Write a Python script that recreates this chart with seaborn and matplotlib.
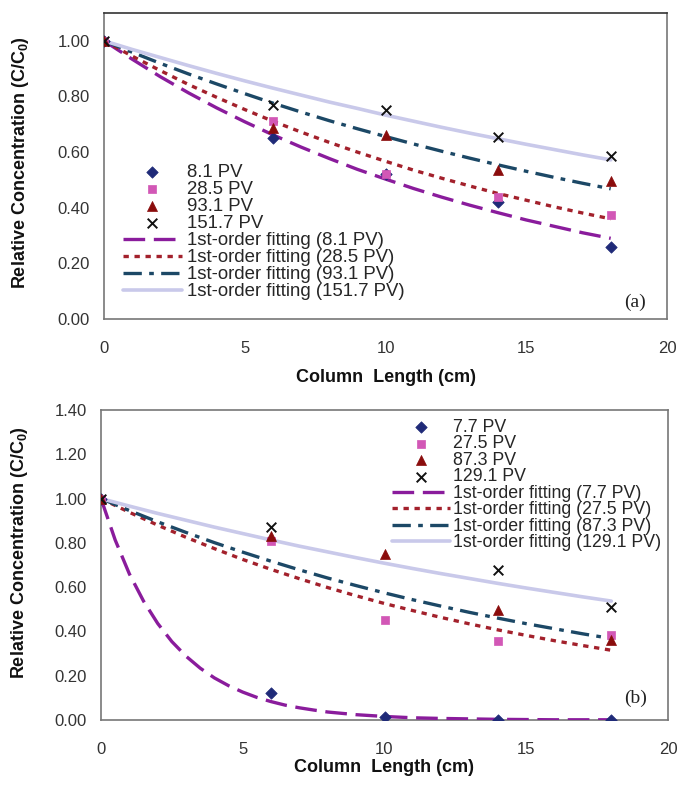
import numpy as np
import pandas as pd
import matplotlib
matplotlib.use("Agg")
import matplotlib.pyplot as plt
import seaborn as sns

# ---------------- data ----------------
col_len = [0, 6, 10, 14, 18]                       # sampling positions (cm)

# panel (a): measured C/C0
a_labels = ["8.1 PV", "28.5 PV", "93.1 PV", "151.7 PV"]
a_8_1 = [1.00, 0.65, 0.52, 0.42, 0.26]
a_28_5 = [1.00, 0.71, 0.52, 0.44, 0.375]
a_93_1 = [1.00, 0.685, 0.66, 0.535, 0.495]
a_151_7 = [1.00, 0.77, 0.75, 0.655, 0.585]

# panel (a): 1st-order fitted curves, read every 1 cm
fit_x = list(range(0, 19))
a_fit_8_1 = [1.000, 0.934, 0.871, 0.813, 0.759, 0.709, 0.662, 0.618, 0.577, 0.538,
             0.503, 0.469, 0.438, 0.409, 0.382, 0.356, 0.333, 0.310, 0.290]
a_fit_28_5 = [1.000, 0.945, 0.893, 0.843, 0.797, 0.753, 0.711, 0.672, 0.635, 0.600,
              0.567, 0.535, 0.506, 0.478, 0.451, 0.427, 0.403, 0.381, 0.360]
a_fit_93_1 = [1.000, 0.959, 0.919, 0.881, 0.845, 0.810, 0.776, 0.744, 0.713, 0.684,
              0.656, 0.629, 0.603, 0.578, 0.554, 0.531, 0.509, 0.488, 0.468]
a_fit_151_7 = [1.000, 0.969, 0.940, 0.911, 0.883, 0.856, 0.830, 0.805, 0.780, 0.757,
               0.733, 0.711, 0.689, 0.668, 0.648, 0.628, 0.609, 0.590, 0.572]

# panel (b): measured C/C0
b_labels = ["7.7 PV", "27.5 PV", "87.3 PV", "129.1 PV"]
b_7_7 = [1.00, 0.123, 0.012, 0.0, 0.0]
b_27_5 = [1.00, 0.807, 0.45, 0.357, 0.383]
b_87_3 = [1.00, 0.83, 0.75, 0.498, 0.363]
b_129_1 = [1.00, 0.87, np.nan, 0.678, 0.51]

# panel (b): 1st-order fitted curves
b_fit_x_7_7 = [0, 0.5, 1, 1.5, 2, 2.5, 3, 3.5, 4, 4.5, 5, 5.5, 6, 6.5, 7, 7.5, 8,
               9, 10, 11, 12, 13, 14, 15, 16, 17, 18]
b_fit_7_7 = [1.000, 0.813, 0.660, 0.537, 0.436, 0.354, 0.288, 0.234, 0.190, 0.155,
             0.126, 0.102, 0.083, 0.067, 0.055, 0.045, 0.036,
             0.024, 0.016, 0.010, 0.007, 0.005, 0.003, 0.002, 0.001, 0.001, 0.001]
b_fit_27_5 = [1.000, 0.938, 0.880, 0.825, 0.774, 0.725, 0.680, 0.638, 0.598, 0.561,
              0.526, 0.494, 0.463, 0.434, 0.407, 0.382, 0.358, 0.336, 0.315]
b_fit_87_3 = [1.000, 0.946, 0.895, 0.847, 0.801, 0.758, 0.717, 0.678, 0.641, 0.607,
              0.574, 0.543, 0.514, 0.486, 0.460, 0.435, 0.412, 0.389, 0.368]
b_fit_129_1 = [1.000, 0.966, 0.933, 0.902, 0.871, 0.842, 0.813, 0.785, 0.759, 0.733,
               0.708, 0.684, 0.661, 0.639, 0.617, 0.596, 0.576, 0.556, 0.537]

# y tick values of each panel
a_yticks = [0.0, 0.2, 0.4, 0.6, 0.8, 1.0]
b_yticks = [0.0, 0.2, 0.4, 0.6, 0.8, 1.0, 1.2, 1.4]

# ---------------- style ----------------
sns.set_style("white")
plt.rcParams["font.family"] = ["Liberation Sans", "DejaVu Sans"]
plt.rcParams["mathtext.fontset"] = "custom"
plt.rcParams["mathtext.rm"] = "Liberation Sans"
plt.rcParams["mathtext.bf"] = "Liberation Sans:bold"

DPI = 100
W, H = 680, 787
fig = plt.figure(figsize=(W / DPI, H / DPI), dpi=DPI)

def px_axes(left, top, right, bottom):
    return fig.add_axes([left / W, 1 - bottom / H, (right - left) / W, (bottom - top) / H])

ax_a = px_axes(104, 13, 667, 319)
ax_b = px_axes(101, 410, 668, 720)

marker_styles = [
    dict(marker="D", color="#1f2a78", s=34),
    dict(marker="s", color="#d257b6", s=36),
    dict(marker="^", color="#8a0c0c", s=52),
    dict(marker="x", color="#111111", s=48),
]
line_styles = [
    dict(color="#8a1c9c", lw=2.4, ls=(0, (6.5, 2.6))),
    dict(color="#a3212c", lw=2.4, ls=(0, (1.6, 1.7))),
    dict(color="#1c4866", lw=2.4, ls=(0, (5.5, 2.2, 1.4, 2.2))),
    dict(color="#c9c9ea", lw=2.6, ls="-"),
]

def draw_panel(ax, labels, points, fits, ymax, yticks, tag, tag_xy, leg_anchor, leg_kw):
    handles = []
    for lab, ys, ms in zip(labels, points, marker_styles):
        df = pd.DataFrame({"x": col_len, "y": ys}).dropna()
        kw = dict(marker=ms["marker"], color=ms["color"], s=ms["s"], zorder=5)
        if ms["marker"] == "x":
            kw.update(linewidth=1.4)
        else:
            kw.update(edgecolor=ms["color"], linewidth=0.5)
        sns.scatterplot(data=df, x="x", y="y", ax=ax, label=lab, legend=False, **kw)
        handles.append(ax.collections[-1])
    for lab, (fx, fy), st in zip(labels, fits, line_styles):
        df = pd.DataFrame({"x": fx, "y": fy})
        sns.lineplot(data=df, x="x", y="y", ax=ax, color=st["color"], linewidth=st["lw"],
                     legend=False, zorder=3)
        line = ax.lines[-1]
        line.set_linestyle(st["ls"])
        line.set_label(f"1st-order fitting ({lab})")
        handles.append(line)

    ax.set_xticks([0, 5, 10, 15, 20])
    ax.set_yticks(yticks)
    ax.set_yticklabels([f"{t:.2f}" for t in yticks])
    ax.set_xlim(0, 20)
    ax.set_ylim(0, ymax)
    ax.tick_params(axis="both", direction="out", length=4, width=1, color="#555555",
                   labelsize=12, labelcolor="#333333")
    ax.tick_params(axis="x", pad=12)
    ax.tick_params(axis="y", pad=6)
    for sp in ax.spines.values():
        sp.set_color("#777777")
        sp.set_linewidth(1.2)
        sp.set_visible(True)

    ax.set_xlabel("Column  Length (cm)", fontsize=13, fontweight="bold", color="#111111")
    ax.set_ylabel(r"Relative Concentration (C/C$_\mathbf{0}$)", fontsize=13,
                  fontweight="bold", color="#111111")
    ax.yaxis.label.set_va("center")
    ax.xaxis.label.set_va("center")

    ax.text(tag_xy[0], tag_xy[1], tag, transform=ax.transAxes,
            ha="center", va="center", fontsize=14, family="Liberation Serif", color="#222222")

    ax.legend(handles=handles, loc="upper left", bbox_to_anchor=leg_anchor,
              bbox_transform=fig.transFigure, frameon=False,
              borderpad=0, borderaxespad=0, scatterpoints=1, **leg_kw)

draw_panel(ax_a, a_labels, [a_8_1, a_28_5, a_93_1, a_151_7],
           [(fit_x, a_fit_8_1), (fit_x, a_fit_28_5), (fit_x, a_fit_93_1), (fit_x, a_fit_151_7)],
           1.1, a_yticks, "(a)", ((635 - 104) / 563, (319 - 302) / 306), (123 / W, 1 - 164 / H),
           dict(fontsize=13.4, handlelength=3.15, handletextpad=0.27, labelspacing=0.0))
draw_panel(ax_b, b_labels, [b_7_7, b_27_5, b_87_3, b_129_1],
           [(b_fit_x_7_7, b_fit_7_7), (fit_x, b_fit_27_5), (fit_x, b_fit_87_3), (fit_x, b_fit_129_1)],
           1.4, b_yticks, "(b)", ((636 - 101) / 567, (720 - 698) / 310), (392 / W, 1 - 419 / H),
           dict(fontsize=12.8, handlelength=3.26, handletextpad=0.17, labelspacing=-0.03))

ax_a.spines["top"].set_color("#333333")

# axis-title placement
ax_a.yaxis.set_label_coords((20 - 104) / 563, 0.51)
ax_a.xaxis.set_label_coords(0.5, (319 - 377) / 306)
ax_b.yaxis.set_label_coords((20 - 101) / 567, 0.54)
ax_b.xaxis.set_label_coords(0.5, (720 - 768) / 310)

fig.savefig("out.png", dpi=DPI, facecolor="white")
